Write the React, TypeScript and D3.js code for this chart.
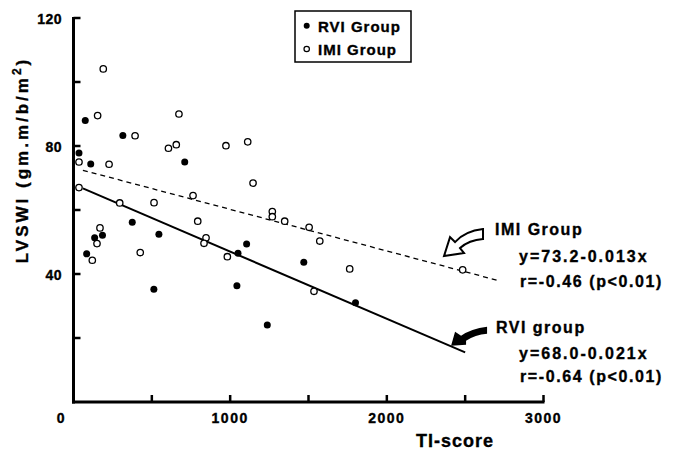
import React from 'react'
import * as d3 from 'd3'

// TI-score vs LVSWI
const rviPoints: [number, number][] = [
  [75, 88], [315, 83.3], [35, 77.8], [110, 74.4], [710, 75], [375, 56.2],
  [135, 51.3], [185, 52.1], [545, 52.4], [84, 46.3], [1050, 46.5], [1105, 49.4],
  [513, 35.2], [1043, 36.3], [1237, 24.1], [1470, 43.7], [1800, 31],
]

const imiPoints: [number, number][] = [
  [190, 104.1], [154, 89.5], [673, 90], [393, 83.2], [606, 79.3], [656, 80.4],
  [973, 80.1], [1112, 81.3], [35, 75], [227, 74.3], [1146, 68.4], [35, 67],
  [763, 64.5], [295, 62.2], [514, 62.3], [1269, 59.5], [1269, 57.9], [793, 56.5],
  [169, 54.4], [150, 49.5], [846, 51.3], [833, 49.6], [120, 44.3], [426, 46.7],
  [982, 45.4], [1348, 56.5], [1504, 54.6], [1572, 50.3], [1763, 41.6], [1535, 34.6],
  [2484, 41.3],
]

const xTicks = [500, 1000, 1500, 2000, 2500, 3000]
const xTickLabels = [0, 1000, 2000, 3000]
const yTicks = [20, 40, 60, 80, 100, 120]
const yTickLabels = [40, 80, 120]

const rviFit = { a: 68.0, b: -0.021, from: 60, to: 2500 }
const imiFit = { a: 73.2, b: -0.013, from: 60, to: 2710 }

const W = 677
const H = 455
const FONT = '"Liberation Sans", Arial, sans-serif'

export default function App() {
  const x = d3.scaleLinear().domain([0, 3000]).range([73.5, 543.5])
  const y = d3.scaleLinear().domain([0, 120]).range([402, 18])

  const line = d3.line<number>()
    .x(d => x(d))
  const fitPath = (f: { a: number; b: number; from: number; to: number }) =>
    line.y(d => y(f.a + f.b * d))([f.from, f.to]) || ''

  const x0 = x(0)
  const y0 = y(0)

  // arrow tips, anchored on the data scale
  const imiTip = [x(2365), y(45.6)]
  const rviTip = [x(2410), y(17.6)]

  // heavier type, like the printed figure
  const ink = { stroke: '#000', strokeWidth: 0.35 }

  return (
    <div style={{ position: 'absolute', left: 0, top: 0 }}>
      <svg width={W} height={H} style={{ display: 'block', background: '#fff' }} fontFamily={FONT}>
        {/* axes */}
        <line x1={x0} x2={x0} y1={y(120) - 1} y2={y0 + 1.5} stroke="#000" strokeWidth={3} />
        <line x1={x0 - 1.5} x2={x(3000) + 1} y1={y0} y2={y0} stroke="#000" strokeWidth={3} />
        {yTicks.map(t => (
          <line key={'yt' + t} x1={x0} x2={x0 + 7} y1={y(t)} y2={y(t)} stroke="#000" strokeWidth={2.5} />
        ))}
        {xTicks.map(t => (
          <line key={'xt' + t} x1={x(t)} x2={x(t)} y1={y0} y2={y0 - 7} stroke="#000" strokeWidth={2.5} />
        ))}

        {/* tick labels */}
        {yTickLabels.map(t => (
          <text key={'yl' + t} x={62} y={y(t) + 6} textAnchor="end" fontSize={14} fontWeight="bold" letterSpacing={0.5} {...ink}>
            {t}
          </text>
        ))}
        {xTickLabels.map(t => (
          <text key={'xl' + t} x={t === 0 ? x(t) - 12 : x(t)} y={423} textAnchor="middle" fontSize={14} fontWeight="bold" letterSpacing={1.5} {...ink}>
            {t}
          </text>
        ))}

        {/* axis titles */}
        <text x={455} y={447} textAnchor="middle" fontSize={18} fontWeight="bold" letterSpacing={1} {...ink}>TI-score</text>
        <text transform={`translate(28,160) rotate(-90)`} textAnchor="middle" fontSize={17} fontWeight="bold" letterSpacing={3} {...ink}>
          LVSWI (gm.m/b/m<tspan dy={-7} fontSize={12}>2</tspan><tspan dy={7}>)</tspan>
        </text>

        {/* regression lines */}
        <path d={fitPath(imiFit)} fill="none" stroke="#000" strokeWidth={1.3} strokeDasharray="5 4" />
        <path d={fitPath(rviFit)} fill="none" stroke="#000" strokeWidth={2} />

        {/* points */}
        {imiPoints.map((p, i) => (
          <circle key={'i' + i} cx={x(p[0])} cy={y(p[1])} r={3.2} fill="#fff" stroke="#000" strokeWidth={1.3} />
        ))}
        {rviPoints.map((p, i) => (
          <circle key={'r' + i} cx={x(p[0])} cy={y(p[1])} r={3.5} fill="#000" />
        ))}

        {/* legend */}
        <rect x={295} y={11} width={116} height={51} fill="#fff" stroke="#000" strokeWidth={1.5} />
        <circle cx={306.7} cy={25.7} r={3} fill="#000" />
        <circle cx={306.7} cy={49} r={2.7} fill="#fff" stroke="#000" strokeWidth={1.2} />
        <text x={318} y={31.5} fontSize={15} fontWeight="bold" letterSpacing={1} {...ink}>RVI Group</text>
        <text x={318} y={55} fontSize={15} fontWeight="bold" letterSpacing={1} {...ink}>IMI Group</text>

        {/* annotations */}
        <g transform={`translate(${imiTip[0]},${imiTip[1]})`}>
          <path d="M0,0 L6,-19 L11,-14 Q21,-25 39,-27 L39,-17 Q25,-16 16,-8 L20,-3 Z"
            fill="#fff" stroke="#000" strokeWidth={2} strokeLinejoin="miter" />
        </g>
        <g transform={`translate(${rviTip[0]},${rviTip[1]})`}>
          <path d="M0,0 L4,-14 L10,-10 Q20,-17 36,-19 L36,-12 Q24,-11 15,-5 L15,-1 Z" fill="#000" />
        </g>

        <g fontSize={16} fontWeight="bold" {...ink}>
          <text x={495} y={235} letterSpacing={1.5}>IMI Group</text>
          <text x={519} y={262} letterSpacing={2}>y=73.2-0.013x</text>
          <text x={520} y={287} letterSpacing={1.6}>r=-0.46 (p&lt;0.01)</text>
          <text x={496} y={333} letterSpacing={1.5}>RVI group</text>
          <text x={519} y={359} letterSpacing={2}>y=68.0-0.021x</text>
          <text x={520} y={382} letterSpacing={1.6}>r=-0.64 (p&lt;0.01)</text>
        </g>
      </svg>
    </div>
  )
}
